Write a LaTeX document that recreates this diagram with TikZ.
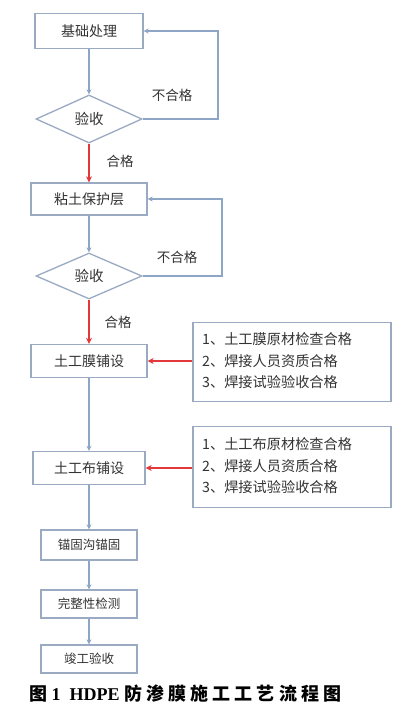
\documentclass[tikz,border=0pt]{standalone}
\usepackage{fontspec}
\setmainfont{Liberation Serif}
\newfontfamily\cjk{Noto Sans CJK SC}
\usetikzlibrary{shapes.geometric,arrows.meta}
\definecolor{edgec}{HTML}{9AAAC2}
\definecolor{linec}{HTML}{8EA6C6}
\definecolor{redc}{HTML}{E2383A}
\definecolor{txtc}{HTML}{333333}
\tikzset{
  procbox/.style={draw=edgec, line width=1.3pt, fill=white, minimum width=#1, minimum height=33pt, inner sep=0pt, font=\cjk\fontsize{14}{16}\selectfont, text=txtc},
  procbox/.default=112pt,
  smallbox/.style={draw=edgec, line width=1.3pt, fill=white, minimum width=96pt, minimum height=29pt, inner sep=0pt, font=\cjk\fontsize{12.5}{14}\selectfont, text=txtc},
  checkdia/.style={diamond, draw=edgec, line width=1.3pt, fill=white, minimum width=106pt, minimum height=48pt, inner sep=0pt, font=\cjk\fontsize{14.5}{16}\selectfont, text=txtc},
  notebox/.style={draw=edgec, line width=1.3pt, fill=white, minimum width=198pt, minimum height=79pt, inner sep=0pt},
  notetext/.style={anchor=west, align=left, font=\cjk\fontsize{14.2}{21.5}\selectfont, text=txtc, inner sep=0pt},
  flow/.style={draw=linec, line width=1.2pt, -{Stealth[length=5pt,width=5pt]}},
  redflow/.style={draw=redc, line width=1.4pt, -{Stealth[length=6pt,width=6pt]}},
  lbl/.style={font=\cjk\fontsize{13.5}{15}\selectfont, text=txtc, inner sep=0pt},
}
\begin{document}
\begin{tikzpicture}[x=1pt,y=-1pt]
\useasboundingbox (0,0) rectangle (417,713);
\fill[white] (0,0) rectangle (417,713);
% main column
\node[procbox=108pt, minimum height=35pt] (b1) at (89,31) {基础处理};
\node[checkdia] (d1) at (89,119) {验收};
\node[procbox=116pt, minimum height=32pt] (b2) at (89,199) {粘土保护层};
\node[checkdia, minimum height=46pt] (d2) at (89,276) {验收};
\node[procbox=116pt] (b3) at (89,361) {土工膜铺设};
\node[procbox=112pt] (b4) at (89,468) {土工布铺设};
\node[smallbox, minimum height=30pt] (b5) at (89,545) {锚固沟锚固};
\node[smallbox, minimum height=28pt] (b6) at (89,604) {完整性检测};
\node[smallbox, minimum height=28pt] (b7) at (89,659) {竣工验收};
% note boxes
\node[notebox] (n1) at (292,362) {};
\node[notebox, minimum height=81pt] (n2) at (292,467) {};
\node[notetext] (t1) at (202,361)
  {1、土工膜原材检查合格\\2、焊接人员资质合格\\3、焊接试验验收合格};
\node[notetext] (t2) at (202,466)
  {1、土工布原材检查合格\\2、焊接人员资质合格\\3、焊接试验验收合格};
% coordinates for loops
\coordinate (r1) at (218,119);
\coordinate (r1t) at (218,31);
\coordinate (r2) at (222,276);
\coordinate (r2t) at (222,199);
% connectors
\draw[flow] (b1) -- (d1);
\draw[flow] (d1.east) -- (r1) -- (r1t) -- (b1.east);
\draw[redflow] (d1) -- (b2);
\draw[flow] (b2) -- (d2);
\draw[flow] (d2.east) -- (r2) -- (r2t) -- (b2.east);
\draw[redflow] (d2) -- (b3);
\draw[flow] (b3) -- (b4);
\draw[flow] (b4) -- (b5);
\draw[flow] (b5) -- (b6);
\draw[flow] (b6) -- (b7);
\draw[redflow] (n1.west |- b3) -- (b3.east);
\draw[redflow] (n2.west |- b4) -- (b4.east);
% labels
\node[lbl] (l1) at (172,95) {不合格};
\node[lbl] (l2) at (120,161) {合格};
\node[lbl] (l3) at (177,257) {不合格};
\node[lbl] (l4) at (118,322) {合格};
% caption
\node[anchor=west, inner sep=0pt, font=\fontsize{18}{20}\selectfont\bfseries] (cap) at (29,694)
  {{\cjk\bfseries 图} 1\ \ HDPE {\cjk\bfseries 防 渗 膜 施 工 工 艺 流 程 图}};
\end{tikzpicture}
\end{document}
